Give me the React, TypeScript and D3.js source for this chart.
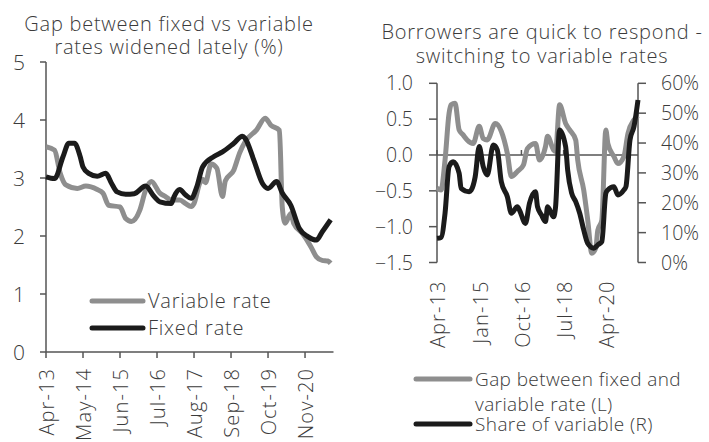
import React from "react";
import * as d3 from "d3";

// left chart: mortgage rates (%), month key "YYYY-MM"
const variableRate: [string, number][] = [
  ["2013-04", 3.54], ["2013-07", 3.48], ["2013-09", 3.08], ["2013-11", 2.88],
  ["2014-03", 2.82], ["2014-06", 2.86], ["2014-10", 2.8], ["2014-12", 2.74],
  ["2015-02", 2.53], ["2015-06", 2.5], ["2015-08", 2.3], ["2015-10", 2.25],
  ["2016-01", 2.45], ["2016-03", 2.79], ["2016-05", 2.94], ["2016-08", 2.74],
  ["2016-10", 2.68], ["2016-12", 2.62], ["2017-03", 2.62], ["2017-05", 2.56],
  ["2017-07", 2.51], ["2017-08", 2.56], ["2017-10", 2.91], ["2017-11", 2.98],
  ["2017-12", 2.92], ["2018-02", 3.24], ["2018-04", 3.17], ["2018-06", 2.68],
  ["2018-07", 2.95], ["2018-10", 3.14], ["2018-12", 3.43], ["2019-02", 3.63],
  ["2019-06", 3.83], ["2019-09", 4.03], ["2019-11", 3.91], ["2020-02", 3.82],
  ["2020-03", 2.5], ["2020-04", 2.22], ["2020-06", 2.39], ["2020-07", 2.22],
  ["2020-10", 2.05], ["2021-01", 1.82], ["2021-03", 1.64], ["2021-05", 1.58],
  ["2021-07", 1.57], ["2021-08", 1.53],
];
const fixedRate: [string, number][] = [
  ["2013-04", 3.02], ["2013-07", 2.99], ["2013-10", 3.37], ["2013-12", 3.6],
  ["2014-02", 3.6], ["2014-04", 3.37], ["2014-05", 3.19], ["2014-07", 3.08],
  ["2014-10", 3.03], ["2015-01", 3.08], ["2015-03", 2.91], ["2015-05", 2.76],
  ["2015-08", 2.72], ["2015-11", 2.73], ["2016-03", 2.86], ["2016-06", 2.68],
  ["2016-08", 2.59], ["2016-12", 2.56], ["2017-01", 2.68], ["2017-03", 2.8],
  ["2017-05", 2.71], ["2017-07", 2.65], ["2017-09", 2.85], ["2017-11", 3.19],
  ["2018-03", 3.37], ["2018-06", 3.45], ["2018-10", 3.6], ["2019-01", 3.72],
  ["2019-02", 3.68], ["2019-05", 3.31], ["2019-08", 2.91], ["2019-10", 2.82],
  ["2020-01", 2.94], ["2020-03", 2.74], ["2020-06", 2.53], ["2020-09", 2.13],
  ["2020-12", 1.99], ["2021-03", 1.93], ["2021-05", 2.07], ["2021-08", 2.28],
];

// right chart: gap (pp, left axis) and share of variable (right axis)
const rateGap: [string, number][] = [
  ["2013-04", -0.46], ["2013-06", -0.49], ["2013-08", -0.07], ["2013-10", 0.58],
  ["2013-11", 0.7], ["2014-01", 0.72], ["2014-03", 0.35], ["2014-05", 0.28],
  ["2014-07", 0.21], ["2014-10", 0.16], ["2015-01", 0.4], ["2015-03", 0.23],
  ["2015-05", 0.21], ["2015-09", 0.44], ["2015-12", 0.33], ["2016-03", 0.02],
  ["2016-05", -0.3], ["2016-08", -0.23], ["2016-11", -0.14], ["2017-01", 0.09],
  ["2017-05", 0.16], ["2017-07", -0.07], ["2017-10", 0.12], ["2017-11", 0.26],
  ["2018-02", 0.07], ["2018-03", 0.05], ["2018-05", 0.7], ["2018-08", 0.44],
  ["2018-10", 0.35], ["2019-01", 0.21], ["2019-02", -0.07], ["2019-05", -0.49],
  ["2019-07", -0.91], ["2019-09", -1.37], ["2019-11", -1.3], ["2019-12", -1.05],
  ["2020-02", -0.91], ["2020-04", 0.35], ["2020-05", 0.16], ["2020-08", -0.02],
  ["2020-10", -0.12], ["2021-01", -0.02], ["2021-03", 0.3], ["2021-06", 0.49],
  ["2021-08", 0.55],
];
const variableShare: [string, number][] = [
  ["2013-04", 0.081], ["2013-06", 0.084], ["2013-08", 0.165], ["2013-10", 0.321],
  ["2013-12", 0.337], ["2014-03", 0.299], ["2014-04", 0.248], ["2014-08", 0.237],
  ["2014-09", 0.242], ["2014-11", 0.287], ["2015-01", 0.388], ["2015-03", 0.321],
  ["2015-05", 0.293], ["2015-08", 0.393], ["2015-10", 0.377], ["2015-12", 0.27],
  ["2016-03", 0.22], ["2016-05", 0.165], ["2016-08", 0.187], ["2016-09", 0.176],
  ["2016-12", 0.131], ["2017-02", 0.198], ["2017-05", 0.237], ["2017-06", 0.187],
  ["2017-08", 0.159], ["2017-10", 0.137], ["2017-11", 0.187], ["2018-02", 0.153],
  ["2018-03", 0.187], ["2018-05", 0.444], ["2018-08", 0.388], ["2018-09", 0.31],
  ["2018-11", 0.232], ["2019-01", 0.204], ["2019-03", 0.165], ["2019-05", 0.109],
  ["2019-07", 0.064], ["2019-10", 0.048], ["2019-12", 0.059], ["2020-02", 0.07],
  ["2020-04", 0.232], ["2020-05", 0.243], ["2020-08", 0.254], ["2020-10", 0.226],
  ["2021-01", 0.243], ["2021-02", 0.254], ["2021-04", 0.41], ["2021-06", 0.455],
  ["2021-08", 0.544],
];

const leftTicks = ["Apr-13", "May-14", "Jun-15", "Jul-16", "Aug-17", "Sep-18", "Oct-19", "Nov-20"];
const rightTicks = ["Apr-13", "Jan-15", "Oct-16", "Jul-18", "Apr-20"];
const leftYTicks = [0, 1, 2, 3, 4, 5];
const gapTicks = [-1.5, -1.0, -0.5, 0.0, 0.5, 1.0];
const shareTicks = [0, 0.1, 0.2, 0.3, 0.4, 0.5, 0.6];

const MONTHS = ["Jan", "Feb", "Mar", "Apr", "May", "Jun", "Jul", "Aug", "Sep", "Oct", "Nov", "Dec"];
// months since Apr-2013
const idx = (k: string) => {
  const [y, m] = k.split("-").map(Number);
  return (y - 2013) * 12 + (m - 4);
};
const labelIdx = (l: string) => {
  const [mon, yy] = l.split("-");
  return (2000 + +yy - 2013) * 12 + MONTHS.indexOf(mon) - 3;
};

const FONT = "'Open Sans', sans-serif";
const TXT = "#3b3b3b";
const AXIS = "#555";
const GREY = "#8e8e8e";
const BLACK = "#1b1b1b";

export default function App() {
  // left chart scales
  const xL = d3.scaleLinear().domain([0, 101]).range([46, 333.5]);
  const yL = d3.scaleLinear().domain([0, 5]).range([352, 62]);
  const lineL = d3
    .line<[string, number]>()
    .x((d) => xL(idx(d[0])))
    .y((d) => yL(d[1]))
    .curve(d3.curveMonotoneX);

  // right chart scales
  const xR = d3.scaleLinear().domain([0, 100]).range([437, 638]);
  const yGap = d3.scaleLinear().domain([-1.5, 1]).range([262.5, 83.3]);
  const yShare = d3.scaleLinear().domain([0, 0.6]).range([262.5, 83.3]);
  const lineGap = d3
    .line<[string, number]>()
    .x((d) => xR(idx(d[0])))
    .y((d) => yGap(d[1]))
    .curve(d3.curveMonotoneX);
  const lineShare = d3
    .line<[string, number]>()
    .x((d) => xR(idx(d[0])))
    .y((d) => yShare(d[1]))
    .curve(d3.curveMonotoneX);

  const base = { fontFamily: FONT, fill: TXT, fontWeight: 300 } as const;
  const title = { ...base, fontSize: 20, letterSpacing: 0.75 } as const;
  const num = { ...base, fontSize: 19.5 } as const;
  const month = { ...base, fontSize: 20, letterSpacing: 1.1 } as const;
  const legL = { ...base, fontSize: 20, letterSpacing: 0.75 } as const;
  const legR = { ...base, fontSize: 19, letterSpacing: 0.4 } as const;

  return (
    <svg
      width={709}
      height={442}
      style={{ position: "absolute", left: 0, top: 0, background: "#fff" }}
    >
      {/* ---------- left chart ---------- */}
      <text {...title} x={169} y={31} textAnchor="middle">Gap between fixed vs variable</text>
      <text {...title} x={169} y={54} textAnchor="middle">rates widened lately (%)</text>

      <line x1={xL(0)} x2={xL(0)} y1={yL(5)} y2={yL(0)} stroke={AXIS} strokeWidth={1.5} />
      <line x1={xL(0)} x2={xL(101)} y1={yL(0)} y2={yL(0)} stroke={AXIS} strokeWidth={1.5} />
      {leftYTicks.map((t) => (
        <g key={t}>
          <line x1={xL(0) - 6} x2={xL(0)} y1={yL(t)} y2={yL(t)} stroke={AXIS} strokeWidth={1.5} />
          <text {...num} fontSize={21} x={25} y={yL(t)} dy="0.36em" textAnchor="end">{t}</text>
        </g>
      ))}
      {leftTicks.map((l) => {
        const x = xL(labelIdx(l));
        return (
          <g key={l}>
            <line x1={x} x2={x} y1={yL(0)} y2={yL(0) + 6} stroke={AXIS} strokeWidth={1.5} />
            <text {...month} transform={`translate(${x},${yL(0) + 16}) rotate(-90)`} dy="0.42em" textAnchor="end">
              {l}
            </text>
          </g>
        );
      })}

      <path d={lineL(variableRate) ?? ""} fill="none" stroke={GREY} strokeWidth={5} strokeLinejoin="round" />
      <path d={lineL(fixedRate) ?? ""} fill="none" stroke={BLACK} strokeWidth={5} strokeLinejoin="round" />

      {/* legend */}
      <line x1={92} x2={143} y1={301} y2={301} stroke={GREY} strokeWidth={5} strokeLinecap="round" />
      <text {...legL} x={148} y={301} dy="0.36em">Variable rate</text>
      <line x1={92} x2={143} y1={328} y2={328} stroke={BLACK} strokeWidth={5} strokeLinecap="round" />
      <text {...legL} x={148} y={328} dy="0.36em">Fixed rate</text>

      {/* ---------- right chart ---------- */}
      <text {...title} x={542} y={39} textAnchor="middle">Borrowers are quick to respond -</text>
      <text {...title} x={542} y={63} textAnchor="middle">switching to variable rates</text>

      <line x1={xR(0)} x2={xR(0)} y1={yGap(1)} y2={yGap(-1.5)} stroke={AXIS} strokeWidth={1.5} />
      {gapTicks.map((t) => (
        <g key={t}>
          <line x1={xR(0) - 8} x2={xR(0)} y1={yGap(t)} y2={yGap(t)} stroke={AXIS} strokeWidth={1.5} />
          <text {...num} x={413} y={yGap(t)} dy="0.36em" textAnchor="end">{d3.format(".1f")(t)}</text>
        </g>
      ))}
      <line x1={xR(100)} x2={xR(100)} y1={yShare(0.6)} y2={yShare(0)} stroke={AXIS} strokeWidth={1.5} />
      {shareTicks.map((t) => (
        <g key={t}>
          <line x1={xR(100)} x2={xR(100) + 8} y1={yShare(t)} y2={yShare(t)} stroke={AXIS} strokeWidth={1.5} />
          <text {...num} x={661} y={yShare(t)} dy="0.36em">{d3.format(".0%")(t)}</text>
        </g>
      ))}
      <line x1={xR(0)} x2={xR(100)} y1={yGap(0)} y2={yGap(0)} stroke={AXIS} strokeWidth={1.5} />
      {rightTicks.map((l) => {
        const x = xR(labelIdx(l));
        return (
          <g key={l}>
            <line x1={x} x2={x} y1={yGap(0) - 5} y2={yGap(0)} stroke={AXIS} strokeWidth={1.5} />
            <text {...month} transform={`translate(${x},${yGap(-1.5) + 18}) rotate(-90)`} dy="0.42em" textAnchor="end">
              {l}
            </text>
          </g>
        );
      })}

      <path d={lineGap(rateGap) ?? ""} fill="none" stroke={GREY} strokeWidth={5} strokeLinejoin="round" />
      <path d={lineShare(variableShare) ?? ""} fill="none" stroke={BLACK} strokeWidth={5} strokeLinejoin="round" />

      {/* legend */}
      <line x1={416} x2={470} y1={379} y2={379} stroke={GREY} strokeWidth={5} strokeLinecap="round" />
      <text {...legR} x={475} y={379} dy="0.36em">Gap between fixed and</text>
      <text {...legR} x={475} y={404} dy="0.36em">variable rate (L)</text>
      <line x1={416} x2={470} y1={424} y2={424} stroke={BLACK} strokeWidth={5} strokeLinecap="round" />
      <text {...legR} x={475} y={424} dy="0.36em">Share of variable (R)</text>
    </svg>
  );
}
